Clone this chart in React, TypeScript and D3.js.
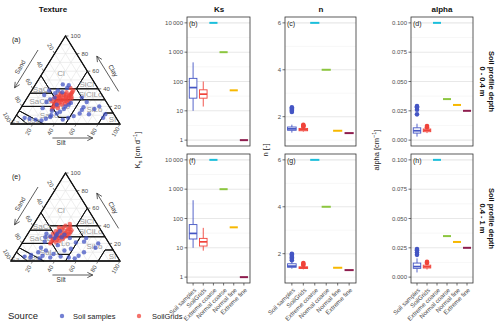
import React from "react";
import * as d3 from "d3";

const FONT = "'Liberation Sans', Arial, Helvetica, sans-serif";

// ---------- data ----------
const categories = ["Soil samples", "SoilGrids", "Extreme coarse", "Normal coarse", "Normal fine", "Extreme fine"];
const fixedCategories = ["Extreme coarse", "Normal coarse", "Normal fine", "Extreme fine"];
const fixedColors = ["#1bbfdc", "#8cc63f", "#f7b801", "#8e1d4e"];
const sourceNames = ["Soil samples", "SoilGrids"];
const sourceColors = ["#4455c4", "#f0433a"];

const ksFixed = [10000, 1000, 50, 1];
const nFixed = [6, 4, 1.4, 1.3];
const alphaFixed = [0.1, 0.035, 0.03, 0.025];

// box stats: [lower whisker, q1, median, q3, upper whisker]
const ksTopSamples = [10, 27, 62, 128, 450];
const ksTopGrids = [14, 27, 37, 52, 100];
const ksBotSamples = [10, 20, 31, 62, 420];
const ksBotGrids = [8, 11.5, 16, 21, 48];
const nTopSamples = [1.32, 1.42, 1.48, 1.56, 1.66];
const nTopGrids = [1.36, 1.4, 1.45, 1.5, 1.54];
const nBotSamples = [1.36, 1.42, 1.47, 1.57, 1.65];
const nBotGrids = [1.33, 1.37, 1.4, 1.44, 1.48];
const alphaTopSamples = [0.003, 0.006, 0.008, 0.0105, 0.014];
const alphaTopGrids = [0.006, 0.0072, 0.0085, 0.0095, 0.0105];
const alphaBotSamples = [0.004, 0.0075, 0.009, 0.012, 0.016];
const alphaBotGrids = [0.0065, 0.0078, 0.0088, 0.0102, 0.0115];

// outliers
const nTopSamplesOut = [2.2, 2.25, 2.3, 2.35, 2.4];
const nTopGridsOut = [1.57, 1.6, 1.62, 1.65];
const nBotSamplesOut = [1.72, 1.78, 1.84, 1.9, 1.96, 2.0];
const nBotGridsOut = [1.52, 1.56, 1.6];
const alphaTopSamplesOut = [0.022, 0.026, 0.028, 0.029];
const alphaTopGridsOut = [0.011, 0.012];
const alphaBotSamplesOut = [0.019, 0.021, 0.023, 0.024];
const alphaBotGridsOut = [0.012, 0.013];

const ksTicks = [1, 10, 100, 1000, 10000];
const nTicks = [2, 4, 6];
const alphaTicks = [0, 0.025, 0.05, 0.075, 0.1];

// texture points [sand, clay]
const blueTop = [[30,45],[28,41],[25,44],[47,22],[55,15],[60,8],[50,5],[44,7],[38,9],[31,12],[27,16],[24,19],[23,11],[9,20],[8,11],[84,7],[80,6],[75,5],[70,4],[65,6],[58,10],[52,12],[48,14],[43,17],[40,20],[36,22],[33,24],[45,30],[42,35],[38,38],[35,36],[50,28],[55,25],[62,18],[53,33],[46,38],[20,30],[18,25],[15,17],[12,7]];
const redTop = [[54,17],[50,20],[48,22],[46,21],[44,24],[45,26],[42,25],[40,27],[41,29],[38,26],[39,28],[37,30],[36,27],[35,29],[34,31],[33,28],[32,30],[31,32],[30,33],[29,31],[28,34],[27,35],[26,36],[24,38],[43,28],[47,25],[49,23],[52,19],[44,30],[42,32],[40,31],[38,33],[36,24],[34,25],[33,34],[30,29],[25,41],[42,22],[46,29],[35,33],[50,26],[39,23],[31,36],[37,35],[48,18]];
const blueBot = [[85,5],[80,4],[78,7],[72,3],[68,6],[62,4],[57,8],[52,5],[45,4],[40,3],[35,6],[28,10],[22,22],[18,26],[15,15],[10,20],[48,18],[50,28],[47,26],[44,29],[42,31],[38,34],[36,30],[55,27],[52,31],[40,27],[33,26],[30,21],[58,22],[65,15],[62,12],[45,12],[38,14],[70,10]];
const redBot = [[25,42],[30,40],[28,37],[33,38],[35,36],[32,34],[38,35],[40,33],[37,32],[42,31],[44,30],[39,29],[36,30],[34,32],[41,28],[45,27],[47,26],[43,26],[49,25],[46,24],[50,23],[52,22],[48,21],[38,27],[35,28],[31,31],[29,33],[27,35],[33,30],[40,25],[44,23],[42,34],[46,31],[50,27],[54,20],[37,38],[30,36],[26,39]];

// USDA texture classes [sand, silt, clay]
const classNames = ["Cl", "SiCl", "SaCl", "ClLo", "SiClLo", "SaClLo", "Lo", "SiLo", "Si", "SaLo", "LoSa", "Sa"];
const classPolys = [
  [[0,0,100],[45,0,55],[45,15,40],[20,40,40],[0,40,60]],
  [[0,40,60],[20,40,40],[0,60,40]],
  [[45,0,55],[65,0,35],[45,20,35]],
  [[45,15,40],[20,40,40],[20,52.5,27.5],[45,27.5,27.5]],
  [[20,40,40],[0,60,40],[0,72.5,27.5],[20,52.5,27.5]],
  [[65,0,35],[45,20,35],[45,27.5,27.5],[52.5,27.5,20],[80,0,20]],
  [[45,27.5,27.5],[22.5,50,27.5],[42.5,50,7.5],[52.5,40,7.5],[52.5,27.5,20]],
  [[22.5,50,27.5],[0,72.5,27.5],[0,87.5,12.5],[7.5,80,12.5],[20,80,0],[50,50,0],[42.5,50,7.5]],
  [[0,87.5,12.5],[7.5,80,12.5],[20,80,0],[0,100,0]],
  [[80,0,20],[52.5,27.5,20],[52.5,40,7.5],[42.5,50,7.5],[50,50,0],[70,30,0],[85,0,15]],
  [[85,0,15],[70,30,0],[85,15,0],[90,0,10]],
  [[90,0,10],[85,15,0],[100,0,0]],
];
// label anchor [sand, silt, clay] per class
const classLabelPos = [
  [25, 17, 58], [8, 47, 45], [52, 8, 40], [34, 32, 34], [10, 56, 34], [58, 16, 26],
  [40, 40, 20], [15, 68, 17], [4, 90, 6], [60, 30, 10], [79, 17, 4], [95, 3, 2],
];
const ternTicks = [20, 40, 60, 80, 100];

// ---------- ternary ----------
function Ternary({ base, apex, letter, blue, red }: any) {
  const xT = d3.scaleLinear().domain([0, 100]).range([11, 120]);
  const yT = d3.scaleLinear().domain([0, 100]).range([base, apex]);
  const pt = (sand: number, silt: number, clay: number): [number, number] => [xT(silt + clay / 2), yT(clay)];
  const line = d3.line();
  const grid: any[] = [];
  for (let v = 10; v < 100; v += 10) {
    grid.push([pt(100 - v, 0, v), pt(0, 100 - v, v)]);
    grid.push([pt(100 - v, v, 0), pt(0, v, 100 - v)]);
    grid.push([pt(v, 100 - v, 0), pt(v, 0, 100 - v)]);
  }
  const L = pt(100, 0, 0), R = pt(0, 100, 0), A = pt(0, 0, 100);
  const arrowHead = (p: [number, number], dir: [number, number]) => {
    const ang = Math.atan2(dir[1], dir[0]);
    const a1 = ang + Math.PI - 0.45, a2 = ang + Math.PI + 0.45;
    const s = 6;
    return `M${p[0] + s * Math.cos(a1)},${p[1] + s * Math.sin(a1)}L${p[0]},${p[1]}L${p[0] + s * Math.cos(a2)},${p[1] + s * Math.sin(a2)}`;
  };
  const off = (p: [number, number], d: [number, number], k: number): [number, number] => [p[0] + d[0] * k, p[1] + d[1] * k];
  const nL: [number, number] = [-0.866, -0.5];
  const nR: [number, number] = [0.866, -0.5];
  const sa0 = off(pt(25, 0, 75), nL, 16), sa1 = off(pt(68, 0, 32), nL, 16);
  const ca0 = off(pt(0, 72, 28), nR, 16), ca1 = off(pt(0, 32, 68), nR, 16);
  const si0 = off(pt(62, 38, 0), [0, 1], 14), si1 = off(pt(25, 75, 0), [0, 1], 14);
  const sandLbl = off(pt(48, 0, 52), nL, 20);
  const clayLbl = off(pt(0, 52, 48), nR, 20);
  return (
    <g>
      {grid.map((g, i) => <path key={i} d={line(g) as string} stroke="#e3e3e3" strokeWidth={0.6} fill="none" />)}
      {classPolys.map((poly, i) => (
        <path key={i} d={(line(poly.map((p) => pt(p[0], p[1], p[2]))) as string) + "Z"} fill="none" stroke="#111" strokeWidth={1} />
      ))}
      {classLabelPos.map((m, i) => {
        const c = pt(m[0], m[1], m[2]);
        return <text key={i} x={c[0]} y={c[1]} dy="0.35em" textAnchor="middle" fontSize={i >= 10 ? 7 : 8} fill="#9a9a9a">{classNames[i]}</text>;
      })}
      {red.map((p: number[], i: number) => { const c = pt(p[0], 100 - p[0] - p[1], p[1]); return <circle key={"r" + i} cx={c[0]} cy={c[1]} r={2.2} fill={sourceColors[1]} fillOpacity={0.7} />; })}
      {blue.map((p: number[], i: number) => { const c = pt(p[0], 100 - p[0] - p[1], p[1]); return <circle key={"b" + i} cx={c[0]} cy={c[1]} r={2.2} fill={sourceColors[0]} fillOpacity={0.75} />; })}
      <path d={`M${L[0]},${L[1]}L${R[0]},${R[1]}L${A[0]},${A[1]}Z`} fill="none" stroke="#111" strokeWidth={1.3} />
      {ternTicks.map((v) => {
        const pl = pt(v, 0, 100 - v), pb = pt(100 - v, v, 0), pr = pt(0, 100 - v, v);
        const dl: [number, number] = [-0.5, -0.866], db: [number, number] = [-0.5, 0.866];
        const tl = off(pl, dl, 8), tb = off(pb, db, 9);
        return (
          <g key={v} fontSize={6} fill="#4d4d4d">
            <line x1={pl[0]} y1={pl[1]} x2={off(pl, dl, 3)[0]} y2={off(pl, dl, 3)[1]} stroke="#333" strokeWidth={0.6} />
            <line x1={pb[0]} y1={pb[1]} x2={off(pb, db, 3)[0]} y2={off(pb, db, 3)[1]} stroke="#333" strokeWidth={0.6} />
            <line x1={pr[0]} y1={pr[1]} x2={pr[0] + 3} y2={pr[1]} stroke="#333" strokeWidth={0.6} />
            <text transform={`translate(${tl[0]},${tl[1]}) rotate(60)`} textAnchor="middle" dy="0.35em">{v}</text>
            <text transform={`translate(${tb[0]},${tb[1]}) rotate(-60)`} textAnchor="middle" dy="0.35em">{v}</text>
            <text x={pr[0] + 5} y={pr[1]} dy="0.35em" textAnchor="start">{v}</text>
          </g>
        );
      })}
      <g stroke="#333" strokeWidth={0.8} fill="none">
        <line x1={sa0[0]} y1={sa0[1]} x2={sa1[0]} y2={sa1[1]} />
        <path d={arrowHead(sa1, [sa1[0] - sa0[0], sa1[1] - sa0[1]])} />
        <line x1={ca0[0]} y1={ca0[1]} x2={ca1[0]} y2={ca1[1]} />
        <path d={arrowHead(ca1, [ca1[0] - ca0[0], ca1[1] - ca0[1]])} />
        <line x1={si0[0]} y1={si0[1]} x2={si1[0]} y2={si1[1]} />
        <path d={arrowHead(si1, [1, 0])} />
      </g>
      <text transform={`translate(${sandLbl[0]},${sandLbl[1]}) rotate(-60)`} textAnchor="middle" fontSize={6.5} fill="#333">Sand</text>
      <text transform={`translate(${clayLbl[0]},${clayLbl[1]}) rotate(60)`} textAnchor="middle" fontSize={6.5} fill="#333">Clay</text>
      <text x={xT(46)} y={base + 21} textAnchor="middle" fontSize={6.5} fill="#333">Silt</text>
      <text x={12} y={apex + 6} fontSize={7} fill="#222">{letter}</text>
    </g>
  );
}

// ---------- box panel ----------
function Panel({ x0, x1, y0, y1, y, majors, minors, fmt, fixed, boxes, outs, letter, showX }: any) {
  const x = d3.scalePoint<string>().domain(categories).range([x0, x1]).padding(0.6);
  const step = x.step();
  const bw = step * 0.75;
  return (
    <g>
      {minors.map((v: number, i: number) => <line key={"mi" + i} x1={x0} x2={x1} y1={y(v)} y2={y(v)} stroke="#f2f2f2" strokeWidth={0.6} />)}
      {majors.map((v: number, i: number) => <line key={"ma" + i} x1={x0} x2={x1} y1={y(v)} y2={y(v)} stroke="#e8e8e8" strokeWidth={1.1} />)}
      {fixed.map((v: number, i: number) => {
        const cx = x(fixedCategories[i]) as number;
        return <line key={"f" + i} x1={cx - step * 0.4} x2={cx + step * 0.4} y1={y(v)} y2={y(v)} stroke={fixedColors[i]} strokeWidth={2} />;
      })}
      {boxes.map((b: number[], i: number) => {
        const cx = x(sourceNames[i]) as number;
        const c = sourceColors[i];
        return (
          <g key={"b" + i} stroke={c}>
            <line x1={cx} x2={cx} y1={y(b[0])} y2={y(b[1])} strokeWidth={0.9} />
            <line x1={cx} x2={cx} y1={y(b[3])} y2={y(b[4])} strokeWidth={0.9} />
            <rect x={cx - bw / 2} y={y(b[3])} width={bw} height={Math.max(0.5, y(b[1]) - y(b[3]))} fill="#fff" strokeWidth={0.9} />
            <line x1={cx - bw / 2} x2={cx + bw / 2} y1={y(b[2])} y2={y(b[2])} strokeWidth={1.7} />
          </g>
        );
      })}
      {outs.map((arr: number[], i: number) => arr.map((v, j) => (
        <circle key={"o" + i + "_" + j} cx={x(sourceNames[i]) as number} cy={y(v)} r={2.3} fill={sourceColors[i]} />
      )))}
      <rect x={x0} y={y0} width={x1 - x0} height={y1 - y0} fill="none" stroke="#333" strokeWidth={0.8} />
      {majors.map((v: number, i: number) => (
        <g key={"t" + i}>
          <line x1={x0 - 2.5} x2={x0} y1={y(v)} y2={y(v)} stroke="#333" strokeWidth={0.7} />
          <text x={x0 - 4} y={y(v)} dy="0.35em" textAnchor="end" fontSize={6} fill="#4d4d4d">{fmt(v)}</text>
        </g>
      ))}
      <text x={x0 + 2} y={y0 + 9} fontSize={7} fill="#222">{letter}</text>
      {showX && categories.map((c) => {
        const cx = x(c) as number;
        return (
          <g key={c}>
            <line x1={cx} x2={cx} y1={y1} y2={y1 + 2.5} stroke="#333" strokeWidth={0.7} />
            <text transform={`translate(${cx + 2},${y1 + 6}) rotate(-45)`} textAnchor="end" dy="0.35em" fontSize={6.2} fill="#4d4d4d">{c}</text>
          </g>
        );
      })}
    </g>
  );
}

const spaceLocale = d3.formatLocale({ decimal: ".", thousands: "\u2009", grouping: [3], currency: ["", ""] });

export default function App() {
  const rows = [{ y0: 17, y1: 146 }, { y0: 154, y1: 283 }];
  const ksFmt = spaceLocale.format(",");
  const nFmt = d3.format("d");
  const aFmt = d3.format(".3f");
  const ksMinor = [0.5, 1.5, 2.5, 3.5].map((e) => Math.pow(10, e));
  const nMinor = [1, 3, 5];
  const aMinor = [0.0125, 0.0375, 0.0625, 0.0875];
  const ksBoxes = [[ksTopSamples, ksTopGrids], [ksBotSamples, ksBotGrids]];
  const nBoxes = [[nTopSamples, nTopGrids], [nBotSamples, nBotGrids]];
  const aBoxes = [[alphaTopSamples, alphaTopGrids], [alphaBotSamples, alphaBotGrids]];
  const nOuts = [[nTopSamplesOut, nTopGridsOut], [nBotSamplesOut, nBotGridsOut]];
  const aOuts = [[alphaTopSamplesOut, alphaTopGridsOut], [alphaBotSamplesOut, alphaBotGridsOut]];
  const letters = [["(b)", "(c)", "(d)"], ["(f)", "(g)", "(h)"]];
  const depth = ["0 - 0.4 m", "0.4 - 1 m"];
  return (
    <svg width={500} height={330} style={{ position: "absolute", left: 0, top: 0, background: "#fff" }} fontFamily={FONT}>
      <rect width={500} height={330} fill="#fff" />
      <text x={53} y={12} textAnchor="middle" fontSize={8} fontWeight="bold" fill="#111">Texture</text>
      <text x={219} y={12} textAnchor="middle" fontSize={8} fontWeight="bold" fill="#111">Ks</text>
      <text x={321} y={12} textAnchor="middle" fontSize={8} fontWeight="bold" fill="#111">n</text>
      <text x={442} y={12} textAnchor="middle" fontSize={8} fontWeight="bold" fill="#111">alpha</text>

      <Ternary base={124} apex={36} letter="(a)" blue={blueTop} red={redTop} />
      <Ternary base={261} apex={173} letter="(e)" blue={blueBot} red={redBot} />

      {rows.map((r, ri) => {
        const yKs = d3.scaleLog().domain([Math.pow(10, -0.2), Math.pow(10, 4.2)]).range([r.y1, r.y0]);
        const yN = d3.scaleLinear().domain([0.75, 6.25]).range([r.y1, r.y0]);
        const yA = d3.scaleLinear().domain([-0.005, 0.105]).range([r.y1, r.y0]);
        const showX = ri === 1;
        return (
          <g key={ri}>
            <Panel x0={187} x1={250} y0={r.y0} y1={r.y1} y={yKs} majors={ksTicks} minors={ksMinor} fmt={ksFmt} fixed={ksFixed} boxes={ksBoxes[ri]} outs={[[], []]} letter={letters[ri][0]} showX={showX} />
            <Panel x0={285} x1={356} y0={r.y0} y1={r.y1} y={yN} majors={nTicks} minors={nMinor} fmt={nFmt} fixed={nFixed} boxes={nBoxes[ri]} outs={nOuts[ri]} letter={letters[ri][1]} showX={showX} />
            <Panel x0={411} x1={473} y0={r.y0} y1={r.y1} y={yA} majors={alphaTicks} minors={aMinor} fmt={aFmt} fixed={alphaFixed} boxes={aBoxes[ri]} outs={aOuts[ri]} letter={letters[ri][2]} showX={showX} />
            <g fontSize={7.5} fontWeight="bold" fill="#111" textAnchor="middle">
              <text transform={`translate(489,${(r.y0 + r.y1) / 2}) rotate(90)`}>Soil profile depth</text>
              <text transform={`translate(480,${(r.y0 + r.y1) / 2}) rotate(90)`}>{depth[ri]}</text>
            </g>
          </g>
        );
      })}

      <g fontSize={7.5} fill="#222" textAnchor="middle">
        <text transform="translate(140,150) rotate(-90)">K<tspan fontSize={5.5} dy={1.5}>s</tspan><tspan dy={-1.5}> [cm d</tspan><tspan fontSize={5.5} dy={-3}>−1</tspan><tspan dy={3}>]</tspan></text>
        <text transform="translate(268,150) rotate(-90)">n [-]</text>
        <text transform="translate(379,150) rotate(-90)">alpha [cm<tspan fontSize={5.5} dy={-3}>−1</tspan><tspan dy={3}>]</tspan></text>
      </g>

      <text x={8} y={319} fontSize={9.5} fill="#222">Source</text>
      {sourceNames.map((s, i) => (
        <g key={s}>
          <circle cx={62 + i * 77} cy={316} r={2.2} fill={sourceColors[i]} fillOpacity={0.75} />
          <text x={73 + i * 79} y={318.5} fontSize={7.5} fill="#222">{s}</text>
        </g>
      ))}
    </svg>
  );
}
